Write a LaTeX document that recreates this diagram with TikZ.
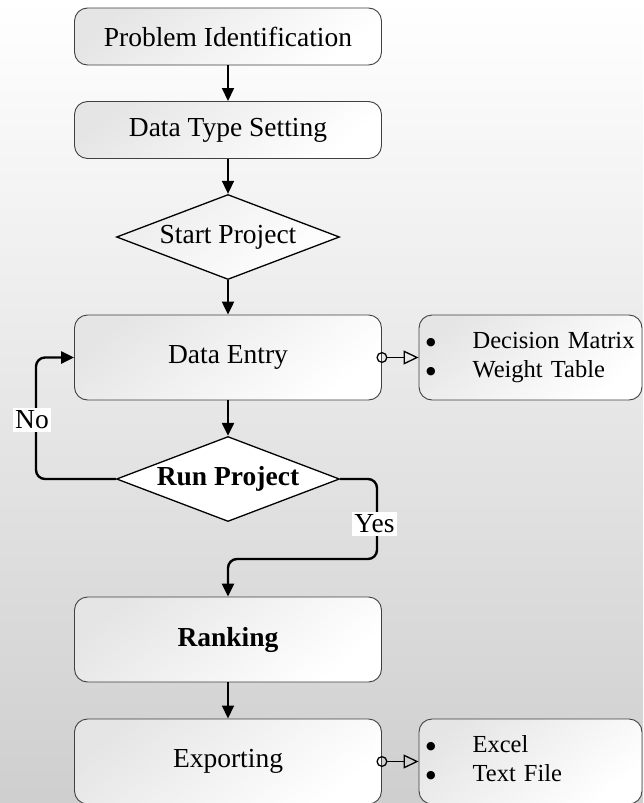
\documentclass[tikz,border=0pt]{standalone}
\usepackage{fontspec}
\setmainfont{Liberation Serif}
\newfontfamily\dotfont{DejaVu Sans}
\usetikzlibrary{shapes.geometric,arrows.meta}
\newcommand{\listdot}{\raisebox{3pt}{\dotfont\fontsize{11}{13}\selectfont ●}}
\tikzset{
  stepbox/.style  = {shape=rectangle, rounded corners=13pt,
                     draw=black!75, line width=0.9pt, align=center,
                     top color=black!10, bottom color=white, shading angle=40,
                     minimum width=307pt, minimum height=85pt, inner sep=0pt},
  smallbox/.style = {stepbox, minimum height=57pt},
  listbox/.style  = {stepbox, minimum width=223pt, text width=209pt,
                     inner xsep=7pt, align=left, font=\fontsize{24.5}{29}\selectfont},
  choice/.style   = {shape=diamond, draw=black, line width=1.3pt,
                     top color=black!7, bottom color=white, shading angle=40,
                     minimum width=223pt, minimum height=85pt, inner sep=0pt},
  flow/.style     = {draw, line width=1.6pt, -{Triangle[length=13pt,width=12pt]}},
  loop/.style     = {flow, line width=2.4pt, rounded corners=9pt},
  attach/.style   = {draw, line width=1.3pt,
                     {Circle[open,length=11pt,width=11pt]}-{Triangle[open,length=15pt,width=14pt]}},
  tag/.style      = {fill=white, inner xsep=2pt, inner ysep=3pt}
}

\begin{document}
\begin{tikzpicture}[x=1pt, y=-1pt, font=\fontsize{27.5}{30}\selectfont]
  \shade[top color=white, bottom color=black!19] (0,0) rectangle (643,803);
  \useasboundingbox (0,0) rectangle (643,803);

  \node[smallbox] (ident)  at (228,36.5)  {Problem Identification};
  \node[smallbox] (dtype)  at (228,130)   {Data Type Setting};
  \node[choice, label=center:{Start Project}] (start) at (228,237) {};
  \node[stepbox]  (entry)  at (228,357.5) {Data Entry};
  \node[listbox]  (inputs) at (530.5,357.5)
    {\begin{tabular}{@{}l@{\hspace{37pt}}l@{}}\listdot & Decision Matrix\\ \listdot & Weight Table\end{tabular}};
  \node[choice, top color=white, label=center:{\bfseries Run Project}] (run) at (228,479) {};
  \node[stepbox]  (rank)   at (228,639.5) {\bfseries Ranking};
  \node[stepbox]  (export) at (228,761.5) {Exporting};
  \node[listbox]  (files)  at (530.5,761.5)
    {\begin{tabular}{@{}l@{\hspace{37pt}}l@{}}\listdot & Excel\\ \listdot & Text File\end{tabular}};

  \coordinate (nobend)  at (36,479);
  \coordinate (yesbend) at (377,479);
  \coordinate (yesdown) at (377,559);
  \coordinate (yesleft) at (228,559);

  \draw[flow] (ident) -- (dtype);
  \draw[flow] (dtype) -- (start);
  \draw[flow, line width=2.2pt] (start) -- (entry);
  \draw[flow, line width=2.2pt] (entry) -- (run);
  \draw[flow] (rank) -- (export);
  \draw[loop] (run.west) -- (nobend) |- (entry.west);
  \draw[loop] (run.east) -- (yesbend) -- (yesdown) -- (yesleft) -- (rank.north);
  \draw[attach, shorten <=-5.5pt] (entry.east) -- (inputs.west);
  \draw[attach, shorten <=-5.5pt] (export.east) -- (files.west);

  \node[tag] (no)  at (32,420)    {No};
  \node[tag] (yes) at (374.5,524) {Yes};
\end{tikzpicture}
\end{document}
